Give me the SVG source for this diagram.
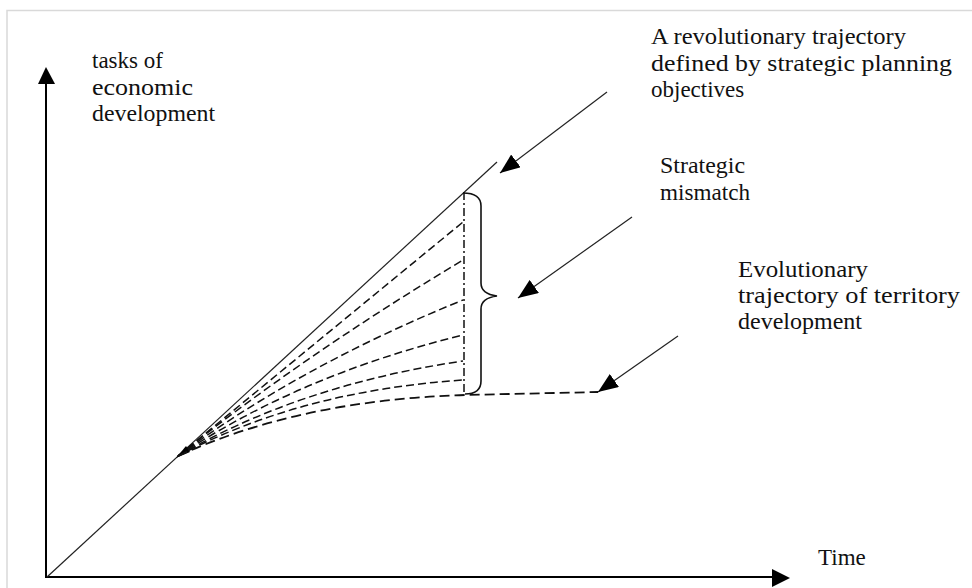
<svg xmlns="http://www.w3.org/2000/svg" width="972" height="588" viewBox="0 0 972 588">
<defs>
<style>
.lbl{font-family:"Liberation Serif","Times New Roman",serif;font-size:23px;fill:#111}
.ax{stroke:#000;stroke-width:2;fill:none}
.thin{stroke:#222;stroke-width:1.2;fill:none}
.dash{stroke:#111;stroke-width:1.5;fill:none;stroke-dasharray:8 4}
.dashb{stroke:#111;stroke-width:1.8;fill:none;stroke-dasharray:10 5}
.dashdot{stroke:#111;stroke-width:1.5;fill:none;stroke-dasharray:8 3 2 3}
.brace{stroke:#111;stroke-width:1.6;fill:none}
</style>
<marker id="ah" viewBox="0 0 20 16" refX="20" refY="8" markerWidth="20" markerHeight="16" markerUnits="userSpaceOnUse" orient="auto">
<path d="M0,0 L20,8 L0,16 z" fill="#000"/>
</marker>
</defs>
<rect width="972" height="588" fill="#fff"/>
<path d="M7,588 V10.5 H972" stroke="#d9d9d9" stroke-width="1.5" fill="none"/>
<g id="axes">
<line class="ax" x1="46" y1="578" x2="46" y2="80"/>
<polygon points="46,67 38,84 55,84" fill="#000"/>
<line class="ax" x1="45" y1="577" x2="778" y2="577"/>
<polygon points="790,578 772,569 772,587" fill="#000"/>
</g>
<g id="revolutionary-line">
<line class="thin" x1="47" y1="577" x2="497" y2="162"/>
</g>
<g id="fan">
<line class="dash" x1="178" y1="456" x2="463" y2="222"/>
<path class="dash" d="M178,456 Q300,358 463,260"/>
<path class="dash" d="M178,456 Q300,366 463,300"/>
<path class="dash" d="M178,456 Q300,375 463,335"/>
<path class="dash" d="M178,456 Q300,385 463,361"/>
<path class="dash" d="M178,456 Q300,391 463,380"/>
<polygon points="176,458 186,446 190,452" fill="#000"/>
</g>
<g id="evolutionary-line">
<path class="dashb" d="M178,456 Q300,400 465,395 L598,392"/>
</g>
<g id="mismatch-line">
<line class="dashdot" x1="464" y1="192" x2="464" y2="395"/>
<path class="brace" d="M463,193 Q481,193 481,206 L481,283 Q481,294 497,296 Q481,298 481,309 L481,381 Q481,394 465,394"/>
</g>
<g id="connectors">
<line class="thin" x1="607" y1="92" x2="500" y2="173" marker-end="url(#ah)"/>
<line class="thin" x1="632" y1="217" x2="518" y2="298" marker-end="url(#ah)"/>
<line class="thin" x1="678" y1="336" x2="598" y2="392" marker-end="url(#ah)"/>
</g>
<g id="label-y">
<text class="lbl" x="92" y="68">tasks of</text>
<text class="lbl" x="92" y="95" textLength="101" lengthAdjust="spacingAndGlyphs">economic</text>
<text class="lbl" x="92" y="121" textLength="123" lengthAdjust="spacingAndGlyphs">development</text>
</g>
<g id="label-revolutionary">
<text class="lbl" x="651" y="44" textLength="255" lengthAdjust="spacingAndGlyphs">A revolutionary trajectory</text>
<text class="lbl" x="651" y="71" textLength="301" lengthAdjust="spacingAndGlyphs">defined by strategic planning</text>
<text class="lbl" x="651" y="97">objectives</text>
</g>
<g id="label-mismatch">
<text class="lbl" x="660" y="173" textLength="85" lengthAdjust="spacingAndGlyphs">Strategic</text>
<text class="lbl" x="660" y="200" textLength="90" lengthAdjust="spacingAndGlyphs">mismatch</text>
</g>
<g id="label-evolutionary">
<text class="lbl" x="738" y="277" textLength="130" lengthAdjust="spacingAndGlyphs">Evolutionary</text>
<text class="lbl" x="738" y="303" textLength="222" lengthAdjust="spacingAndGlyphs">trajectory of territory</text>
<text class="lbl" x="738" y="329" textLength="124" lengthAdjust="spacingAndGlyphs">development</text>
</g>
<g id="label-x">
<text class="lbl" x="818" y="565">Time</text>
</g>
</svg>
